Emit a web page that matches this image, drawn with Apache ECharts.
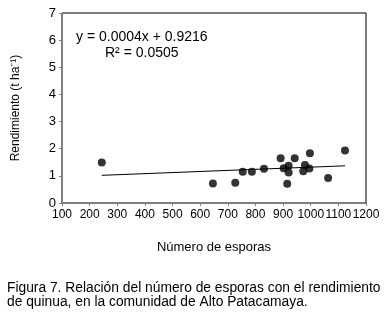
<!DOCTYPE html>
<html>
<head>
<meta charset="utf-8">
<script src="https://cdn.jsdelivr.net/npm/echarts@6/dist/echarts.min.js"></script>
<style>
  html, body { margin: 0; padding: 0; background: #fff; }
  #chart { width: 387px; height: 319px; }
</style>
</head>
<body>
<div id="chart"></div>
<script>
// esporas vs rendimiento
const esporas = [244, 646, 727, 754, 787, 831, 891, 902, 920, 920, 915, 942, 973, 979, 995, 997, 1063, 1124]
const rendimiento = [1.49, 0.72, 0.75, 1.15, 1.15, 1.26, 1.65, 1.28, 1.37, 1.12, 0.71, 1.65, 1.17, 1.40, 1.27, 1.83, 0.92, 1.93]
// línea de tendencia (extremos)
const trendX = [244, 1124]
const trendY = [1.02, 1.37]
const xTicks = [100, 200, 300, 400, 500, 600, 700, 800, 900, 1000, 1100, 1200]
const yTicks = [0, 1, 2, 3, 4, 5, 6, 7]

const font = 'Liberation Sans, Arial, sans-serif'
const chart = echarts.init(document.getElementById('chart'))

chart.setOption({
  animation: false,
  grid: {
    left: 62,
    right: 21,
    top: 13,
    bottom: 116,
    show: true,
    borderColor: '#000',
    borderWidth: 1
  },
  xAxis: {
    type: 'value',
    min: xTicks[0],
    max: xTicks[xTicks.length - 1],
    interval: 100,
    name: 'Número de esporas',
    nameLocation: 'middle',
    nameGap: 38,
    nameTextStyle: { color: '#000', fontSize: 13, fontFamily: font },
    axisLine: { show: true, lineStyle: { color: '#808080' } },
    axisTick: { show: true, length: 3, lineStyle: { color: '#808080' } },
    axisLabel: {
      color: '#000', fontSize: 12, fontFamily: font, margin: 6,
      interval: 0, hideOverlap: false, showMinLabel: true, showMaxLabel: true,
      formatter: v => String(v)
    },
    splitLine: { show: false }
  },
  yAxis: {
    type: 'value',
    min: yTicks[0],
    max: yTicks[yTicks.length - 1],
    interval: 1,
    name: 'Rendimiento (t ha⁻¹)',
    nameLocation: 'middle',
    nameGap: 40,
    nameTextStyle: { color: '#000', fontSize: 12, fontFamily: font },
    axisLine: { show: true, lineStyle: { color: '#808080' } },
    axisTick: { show: true, length: 3, lineStyle: { color: '#808080' } },
    axisLabel: { color: '#000', fontSize: 13, fontFamily: font, margin: 6 },
    splitLine: { show: false }
  },
  series: [
    {
      type: 'line',
      data: trendX.map((x, i) => [x, trendY[i]]),
      showSymbol: false,
      lineStyle: { color: '#000', width: 1 },
      z: 2
    },
    {
      type: 'scatter',
      data: esporas.map((x, i) => [x, rendimiento[i]]),
      symbol: 'circle',
      symbolSize: 8,
      itemStyle: { color: '#000' },
      z: 3
    }
  ],
  graphic: [
    {
      type: 'text', left: 76, top: 30,
      style: { text: 'y = 0.0004x + 0.9216', fill: '#000', font: '14px ' + font }
    },
    {
      type: 'text', left: 105, top: 46,
      style: { text: 'R² = 0.0505', fill: '#000', font: '14px ' + font }
    },
    {
      type: 'text', left: 7, top: 281,
      style: {
        text: 'Figura 7. Relación del número de esporas con el rendimiento\nde quinua, en la comunidad de Alto Patacamaya.',
        fill: '#000', font: '13.8px ' + font, lineHeight: 14
      }
    }
  ]
})
</script>
</body>
</html>
